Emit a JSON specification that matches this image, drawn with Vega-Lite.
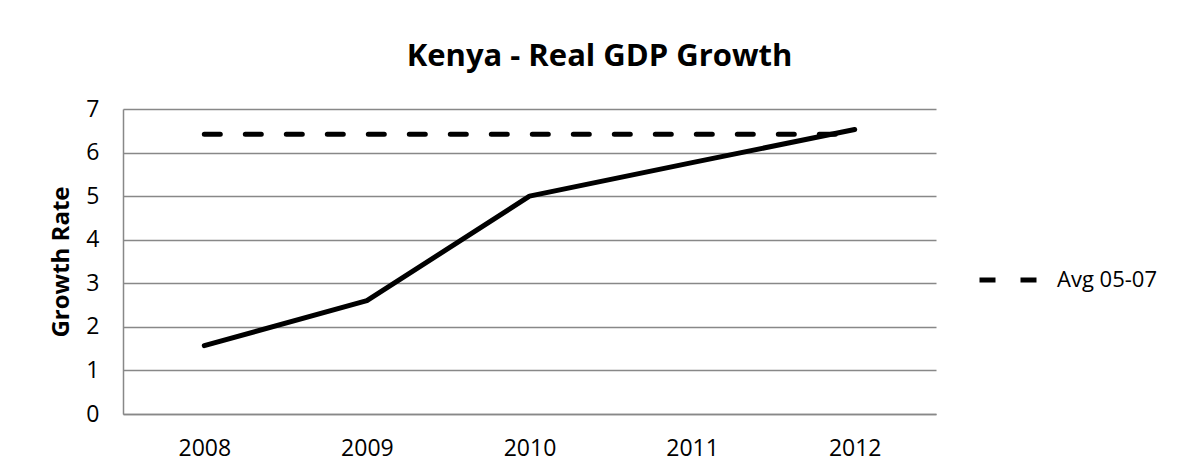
{
  "$schema": "https://vega.github.io/schema/vega-lite/v6.json",
  "autosize": {"type": "none"},
  "width": 813,
  "height": 305,
  "padding": {"left": 123, "top": 109, "right": 245, "bottom": 60},
  "background": "white",
  "config": {
    "font": "Open Sans",
    "view": {"stroke": null},
    "axis": {"labelFont": "Open Sans", "titleFont": "Open Sans", "labelColor": "black", "titleColor": "black"}
  },
  "title": {
    "text": "Kenya - Real GDP Growth",
    "font": "Open Sans",
    "fontSize": 31,
    "fontWeight": "bold",
    "color": "black",
    "anchor": "middle",
    "frame": "group",
    "dx": 70,
    "offset": 25
  },
  "data": {
    "values": [
      {"year": "2008", "series": "Real GDP Growth", "value": 1.57},
      {"year": "2009", "series": "Real GDP Growth", "value": 2.6},
      {"year": "2010", "series": "Real GDP Growth", "value": 5.0},
      {"year": "2011", "series": "Real GDP Growth", "value": 5.77},
      {"year": "2012", "series": "Real GDP Growth", "value": 6.53},
      {"year": "2008", "series": "Avg 05-07", "value": 6.42},
      {"year": "2009", "series": "Avg 05-07", "value": 6.42},
      {"year": "2010", "series": "Avg 05-07", "value": 6.42},
      {"year": "2011", "series": "Avg 05-07", "value": 6.42},
      {"year": "2012", "series": "Avg 05-07", "value": 6.42}
    ]
  },
  "encoding": {
    "x": {
      "field": "year",
      "type": "ordinal",
      "scale": {"type": "point", "padding": 0.5},
      "axis": {
        "title": null,
        "labelAngle": 0,
        "labelFontSize": 23,
        "labelPadding": 23,
        "ticks": false,
        "domainColor": "#888888",
        "domainWidth": 1.5
      }
    },
    "y": {
      "field": "value",
      "type": "quantitative",
      "scale": {"domain": [0, 7], "nice": false},
      "axis": {
        "title": "Growth Rate",
        "titleFontSize": 24,
        "titleFontWeight": "bold",
        "titlePadding": 12,
        "values": [0, 1, 2, 3, 4, 5, 6, 7],
        "labelFontSize": 23,
        "labelPadding": 24,
        "ticks": false,
        "grid": true,
        "gridColor": "#888888",
        "gridWidth": 1.3,
        "domainColor": "#888888",
        "domainWidth": 1.5
      }
    }
  },
  "layer": [
    {
      "transform": [{"filter": "datum.series === 'Real GDP Growth'"}],
      "mark": {"type": "line", "color": "black", "strokeWidth": 5, "strokeCap": "round", "strokeJoin": "round"}
    },
    {
      "transform": [{"filter": "datum.series === 'Avg 05-07'"}],
      "mark": {"type": "line", "color": "black", "strokeWidth": 5, "strokeCap": "round"},
      "encoding": {
        "strokeDash": {
          "field": "series",
          "type": "nominal",
          "scale": {"domain": ["Avg 05-07"], "range": [[16, 25]]},
          "legend": {
            "title": null,
            "orient": "none",
            "legendX": 854,
            "legendY": 137,
            "labelFontSize": 22,
            "labelFont": "Open Sans",
            "labelColor": "black",
            "symbolType": "stroke",
            "symbolSize": 3969,
            "symbolStrokeWidth": 5,
            "symbolStrokeColor": "black",
            "symbolDash": [16, 25],
            "labelOffset": 12
          }
        }
      }
    }
  ]
}
